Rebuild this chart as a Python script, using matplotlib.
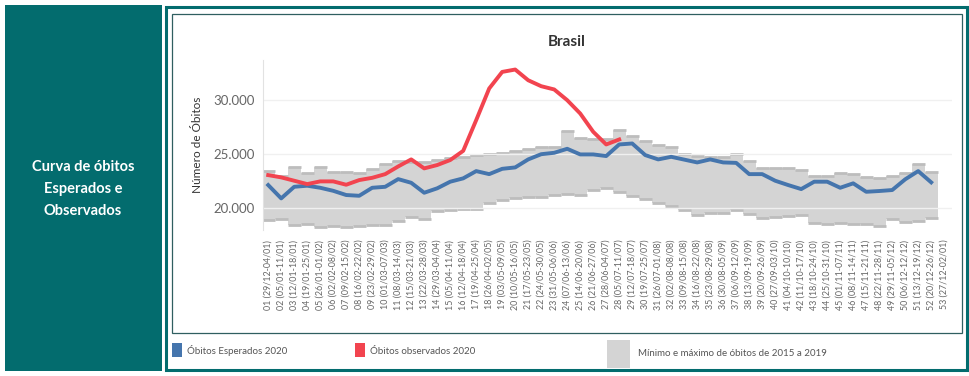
import numpy as np
import matplotlib
matplotlib.use("Agg")
import matplotlib.pyplot as plt
from matplotlib.patches import Rectangle

# ---------------- data ----------------
week_labels = [
    "01 (29/12-04/01)", "02 (05/01-11/01)", "03 (12/01-18/01)", "04 (19/01-25/01)",
    "05 (26/01-01/02)", "06 (02/02-08/02)", "07 (09/02-15/02)", "08 (16/02-22/02)",
    "09 (23/02-29/02)", "10 (01/03-07/03)", "11 (08/03-14/03)", "12 (15/03-21/03)",
    "13 (22/03-28/03)", "14 (29/03-04/04)", "15 (05/04-11/04)", "16 (12/04-18/04)",
    "17 (19/04-25/04)", "18 (26/04-02/05)", "19 (03/05-09/05)", "20 (10/05-16/05)",
    "21 (17/05-23/05)", "22 (24/05-30/05)", "23 (31/05-06/06)", "24 (07/06-13/06)",
    "25 (14/06-20/06)", "26 (21/06-27/06)", "27 (28/06-04/07)", "28 (05/07-11/07)",
    "29 (12/07-18/07)", "30 (19/07-25/07)", "31 (26/07-01/08)", "32 (02/08-08/08)",
    "33 (09/08-15/08)", "34 (16/08-22/08)", "35 (23/08-29/08)", "36 (30/08-05/09)",
    "37 (06/09-12/09)", "38 (13/09-19/09)", "39 (20/09-26/09)", "40 (27/09-03/10)",
    "41 (04/10-10/10)", "42 (11/10-17/10)", "43 (18/10-24/10)", "44 (25/10-31/10)",
    "45 (01/11-07/11)", "46 (08/11-14/11)", "47 (15/11-21/11)", "48 (22/11-28/11)",
    "49 (29/11-05/12)", "50 (06/12-12/12)", "51 (13/12-19/12)", "52 (20/12-26/12)",
    "53 (27/12-02/01)",
]

expected_2020 = [
    22150, 20920, 21990, 22090, 21900, 21620, 21230, 21160, 21900, 21990,
    22700, 22360, 21440, 21850, 22460, 22770, 23440, 23160, 23650, 23780,
    24520, 25000, 25130, 25500, 24980, 24980, 24830, 25900, 25990, 24920,
    24520, 24760, 24500, 24240, 24520, 24240, 24200, 23160, 23160, 22550,
    22150, 21780, 22460, 22460, 21900, 22310, 21530, 21600, 21690, 22680,
    23440, 22400, np.nan,
]

observed_2020 = [
    23070, 22860, 22550, 22240, 22490, 22490, 22180, 22610, 22820, 23160,
    23870, 24520, 23690, 24000, 24460, 25310, 28150, 31070, 32600, 32820,
    31830, 31280, 30980, 29990, 28760, 27070, 25900, 26360,
] + [np.nan] * 25

min_2015_2019 = [
    18920, 18990, 18460, 18520, 18250, 18370, 18250, 18370, 18460, 18490,
    18800, 19230, 18990, 19780, 19840, 19900, 19900, 20460, 20770, 20920,
    21010, 21070, 21230, 21290, 21230, 21690, 21900, 21530, 21130, 20830,
    20460, 20240, 19840, 19380, 19560, 19600, 19840, 19470, 19130, 19230,
    19300, 19420, 18620, 18550, 18650, 18600, 18550, 18370, 19000, 18700,
    18860, 19130, np.nan,
]

max_2015_2019 = [
    23440, 22980, 23780, 23230, 23780, 23320, 23320, 23230, 23650, 24090,
    24360, 24300, 24300, 24460, 24610, 24760, 24920, 25010, 25130, 25290,
    25440, 25620, 25700, 27130, 26540, 26420, 26420, 27280, 26640, 26180,
    25840, 25680, 25000, 24830, 24760, 24760, 25000, 24330, 23690, 23770,
    23770, 23570, 23000, 23000, 23230, 23140, 22920, 22770, 23030, 23300,
    24060, 23380, np.nan,
]

y_ticks = [20000, 25000, 30000]
y_tick_labels = ["20.000", "25.000", "30.000"]

# ---------------- styling ----------------
W, H = 970, 376
TEAL = "#036c6e"
BLUE = "#4575ad"
RED = "#f2444f"
BAND = "#d4d4d4"
CAP = "#bdbdbd"

plt.rcParams["font.family"] = ["Lato", "DejaVu Sans"]

fig = plt.figure(figsize=(W / 100, H / 100), dpi=100)
fig.patch.set_facecolor("white")


def px_rect(x, y, w, h, **kw):
    r = Rectangle((x / W, 1 - (y + h) / H), w / W, h / H,
                  transform=fig.transFigure, **kw)
    fig.patches.append(r)
    return r


# left teal panel
px_rect(5, 5, 157, 366, facecolor=TEAL, edgecolor="none")
fig.text(83 / W, 1 - 189 / H, "Curva de óbitos\nEsperados e\nObservados",
         ha="center", va="center", color="white", fontsize=10.5,
         fontweight="bold", linespacing=1.75)

# right frame
px_rect(166.5, 6.5, 801, 363, facecolor="none", edgecolor=TEAL, linewidth=2.2)
# inner chart box
px_rect(172, 14, 790, 319, facecolor="none", edgecolor="#2f5f60", linewidth=0.9)

# title
fig.text(567 / W, 1 - 42 / H, "Brasil", ha="center", va="center",
         fontsize=11, fontweight="bold", color="#333333")

# ---------------- axes ----------------
ax = fig.add_axes([263 / W, 1 - 230 / H, (952 - 263) / W, (230 - 60) / H])
weeks = np.arange(1, len(week_labels) + 1)

mn = np.array(min_2015_2019, dtype=float)
mx = np.array(max_2015_2019, dtype=float)
ax.bar(weeks, mx - mn, bottom=mn, width=1.0, color=BAND, edgecolor="none",
       zorder=1)
ax.hlines(mx, weeks - 0.5, weeks + 0.5, color=CAP, linewidth=2.0, zorder=1.5)
ax.hlines(mn, weeks - 0.5, weeks + 0.5, color=CAP, linewidth=2.0, zorder=1.5)

for yt in y_ticks:
    ax.axhline(yt, color="#f0f0f0", linewidth=1.0, zorder=2)

ax.plot(weeks, expected_2020, color=BLUE, linewidth=2.8, zorder=4,
        solid_joinstyle="round")
ax.plot(weeks, observed_2020, color=RED, linewidth=2.8, zorder=5,
        solid_joinstyle="round")

ax.set_xlim(0.6, 53.6)
ax.set_ylim(18000, 33700)

ax.set_yticks(y_ticks)
ax.set_yticklabels(y_tick_labels, fontsize=9.5, color="#666666")
ax.set_xticks(weeks)
ax.set_xticklabels(week_labels, rotation=90, fontsize=6.4, color="#666666",
                   va="top")
ax.tick_params(axis="both", length=0)
ax.tick_params(axis="y", pad=6)
ax.tick_params(axis="x", pad=7)

for s in ["top", "right", "bottom"]:
    ax.spines[s].set_visible(False)
ax.spines["left"].set_color("#e2e2e2")
ax.spines["left"].set_linewidth(0.8)

ax.set_ylabel("Número de Óbitos", fontsize=8.5, color="#333333")
ax.yaxis.set_label_coords((203 - 263) / (952 - 263), 0.5)

# ---------------- legend ----------------
px_rect(172, 343, 10, 14, facecolor=BLUE, edgecolor="none")
fig.text(187 / W, 1 - 351 / H, "Óbitos Esperados 2020", fontsize=7,
         color="#555555", va="center", ha="left")
px_rect(355, 343, 10, 14, facecolor=RED, edgecolor="none")
fig.text(370 / W, 1 - 351 / H, "Óbitos observados 2020", fontsize=7,
         color="#555555", va="center", ha="left")
px_rect(607, 340, 23, 28, facecolor=BAND, edgecolor="none")
fig.text(638 / W, 1 - 353 / H, "Mínimo e máximo de óbitos de 2015 a 2019",
         fontsize=7, color="#555555", va="center", ha="left")

fig.savefig("out.png", dpi=100, facecolor="white")
